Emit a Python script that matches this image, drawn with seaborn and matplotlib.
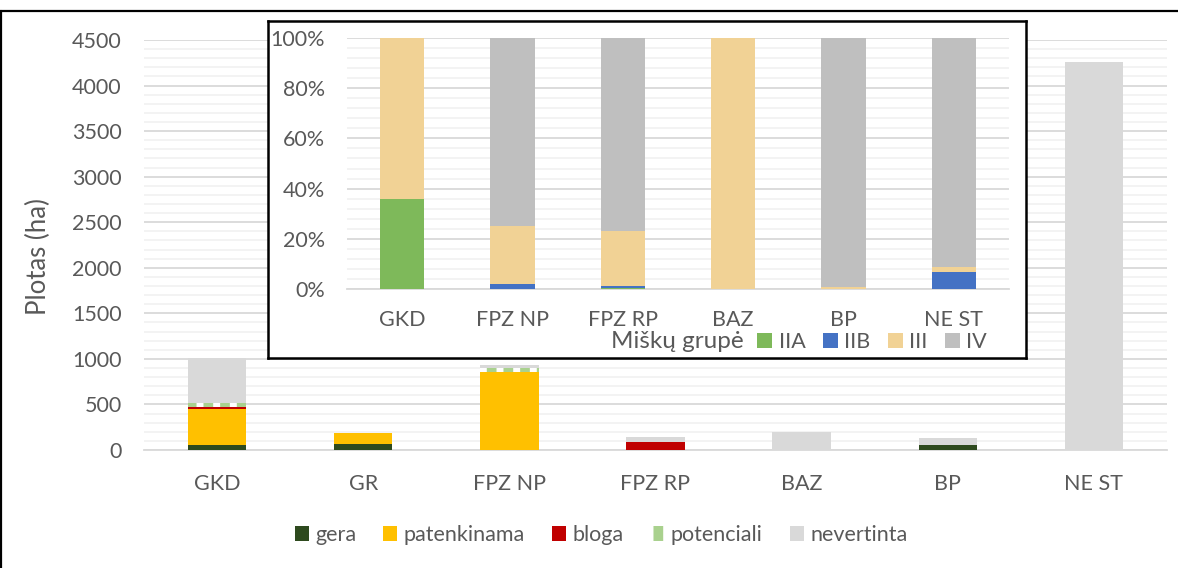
import matplotlib
matplotlib.use("Agg")
import matplotlib.pyplot as plt
from matplotlib.patches import Patch
from matplotlib.lines import Line2D
from matplotlib.ticker import MultipleLocator, PercentFormatter
import numpy as np
import seaborn as sns

# ---- data: forest area by protection category (ha) ----
categories = ["GKD", "GR", "FPZ NP", "FPZ RP", "BAZ", "BP", "NE ST"]
gera = [50, 62, 0, 0, 0, 55, 0]
patenkinama = [400, 128, 853, 0, 0, 0, 0]
bloga = [25, 0, 0, 92, 0, 5, 0]
potenciali = [45, 0, 50, 0, 0, 0, 0]
nevertinta = [486, 0, 27, 55, 198, 75, 4260]

# ---- data: share of forest groups (%) ----
inset_categories = ["GKD", "FPZ NP", "FPZ RP", "BAZ", "BP", "NE ST"]
grp_IIA = [36.0, 0.0, 0.4, 0.0, 0.0, 0.0]
grp_IIB = [0.0, 2.2, 1.0, 0.0, 0.0, 6.8]
grp_III = [64.0, 23.1, 21.9, 100.0, 0.8, 2.1]
grp_IV = [0.0, 74.7, 76.7, 0.0, 99.2, 91.1]

sns.set_style("white")
plt.rcParams["font.family"] = ["Lato", "DejaVu Sans"]
plt.rcParams["hatch.linewidth"] = 7

TXT = "#595959"
FS = 15.5
W, H = 1178, 568


def fx(px):
    return px / W


def fy(py):
    return 1 - py / H


fig = plt.figure(figsize=(W / 100, H / 100), dpi=100)

# outer frame (top and left edges)
fig.add_artist(Line2D([0, 1], [fy(11), fy(11)], transform=fig.transFigure,
                      color="black", lw=1.6))
fig.add_artist(Line2D([fx(1), fx(1)], [fy(11), 0], transform=fig.transFigure,
                      color="black", lw=1.6))

# ---------------- main stacked bars ----------------
ax = fig.add_axes([fx(144), fy(450), fx(1167) - fx(144), fy(40) - fy(450)])
ax.set_zorder(0)

layers = [
    ("gera", gera, "#2E4A1E", None),
    ("patenkinama", patenkinama, "#FFC000", None),
    ("bloga", bloga, "#C00000", None),
    ("potenciali", potenciali, "#A9D18E", "|"),
    ("nevertinta", nevertinta, "#D9D9D9", None),
]
cums = np.cumsum([np.array(v, dtype=float) for _, v, _, _ in layers], axis=0)

# draw the running totals from the top layer down so each segment shows
for i in range(len(layers) - 1, -1, -1):
    name, _, col, hatch = layers[i]
    if hatch:
        sns.barplot(x=categories, y=cums[i], order=categories, color="white",
                    saturation=1, width=0.4, linewidth=0, ax=ax, zorder=3)
        for bar in ax.containers[-1]:
            bar.set_hatch(hatch)
            bar.set_edgecolor(col)
            bar.set_linewidth(0)
    else:
        sns.barplot(x=categories, y=cums[i], order=categories, color=col,
                    saturation=1, width=0.4, linewidth=0, ax=ax, zorder=3)

ax.set_xlim(-0.5, len(categories) - 0.5)
ax.set_ylim(0, 4500)
ax.yaxis.set_major_locator(MultipleLocator(500))
ax.yaxis.set_minor_locator(MultipleLocator(100))
ax.grid(axis="y", which="major", color="#D9D9D9", lw=1.3, zorder=0)
ax.grid(axis="y", which="minor", color="#F2F2F2", lw=1.3, zorder=0)
ax.grid(axis="x", visible=False)
ax.set_axisbelow(True)
for s in ["top", "right", "left"]:
    ax.spines[s].set_visible(False)
ax.spines["bottom"].set_color("#D9D9D9")
ax.spines["bottom"].set_linewidth(1.3)
ax.tick_params(axis="y", which="both", length=0, pad=16, labelsize=FS, labelcolor=TXT)
ax.tick_params(axis="x", length=0, pad=17, labelsize=FS, labelcolor=TXT)
ax.set_xlabel("")
ax.set_ylabel("Plotas (ha)", fontsize=18.5, color=TXT, va="center", ha="center")
ax.yaxis.set_label_coords(fx(38), fy(257), transform=fig.transFigure)

handles = []
for name, _, col, hatch in layers:
    if hatch:
        handles.append(Patch(facecolor="white", edgecolor=col, hatch=hatch,
                             linewidth=0, label=name))
    else:
        handles.append(Patch(facecolor=col, edgecolor="none", label=name))
fig.legend(handles=handles, loc="center", bbox_to_anchor=(fx(601), fy(535)),
           ncol=5, frameon=False, fontsize=FS, labelcolor=TXT,
           handlelength=0.65, handleheight=0.65, handletextpad=0.3,
           columnspacing=1.25)

# ---------------- inset frame ----------------
box = fig.add_axes([fx(268), fy(358), fx(1026) - fx(268), fy(21) - fy(358)])
box.set_zorder(1)
box.set_facecolor("white")
box.set_xticks([])
box.set_yticks([])
for s in box.spines.values():
    s.set_color("black")
    s.set_linewidth(1.8)

# ---------------- inset: forest group shares ----------------
ax2 = fig.add_axes([fx(347), fy(289.3), fx(1009) - fx(347), fy(37.7) - fy(289.3)])
ax2.set_zorder(2)
ax2.patch.set_alpha(0)

glayers = [
    ("IIA", grp_IIA, "#7EB95A"),
    ("IIB", grp_IIB, "#4472C4"),
    ("III", grp_III, "#F1D295"),
    ("IV", grp_IV, "#BFBFBF"),
]
gcums = np.cumsum([np.array(v, dtype=float) for _, v, _ in glayers], axis=0)
for i in range(len(glayers) - 1, -1, -1):
    name, _, col = glayers[i]
    sns.barplot(x=inset_categories, y=gcums[i], order=inset_categories, color=col,
                saturation=1, width=0.4, linewidth=0, ax=ax2, zorder=3)

ax2.set_xlim(-0.5, len(inset_categories) - 0.5)
ax2.set_ylim(0, 100)
ax2.yaxis.set_major_locator(MultipleLocator(20))
ax2.yaxis.set_minor_locator(MultipleLocator(4))
ax2.yaxis.set_major_formatter(PercentFormatter(decimals=0))
ax2.grid(axis="y", which="major", color="#D9D9D9", lw=1.3, zorder=0)
ax2.grid(axis="y", which="minor", color="#F2F2F2", lw=1.3, zorder=0)
ax2.grid(axis="x", visible=False)
ax2.set_axisbelow(True)
for s in ["top", "right", "left"]:
    ax2.spines[s].set_visible(False)
ax2.spines["bottom"].set_color("#D9D9D9")
ax2.spines["bottom"].set_linewidth(1.3)
ax2.tick_params(axis="y", which="both", length=0, pad=16, labelsize=FS, labelcolor=TXT)
ax2.tick_params(axis="x", length=0, pad=15, labelsize=FS, labelcolor=TXT)
ax2.set_xlabel("")
ax2.set_ylabel("")

fig.text(fx(611), fy(342), "Miškų grupė", fontsize=17.5, color=TXT,
         ha="left", va="center", zorder=5)
ghandles = [Patch(facecolor=col, edgecolor="none", label=name)
            for name, _, col in glayers]
leg2 = fig.legend(handles=ghandles, loc="center left",
                  bbox_to_anchor=(fx(742), fy(342)), ncol=4, frameon=False,
                  fontsize=FS, labelcolor=TXT, handlelength=0.7,
                  handleheight=0.7, handletextpad=0.3, columnspacing=0.8,
                  borderpad=0.2)
leg2.set_zorder(5)

fig.savefig("out.png", dpi=100)
